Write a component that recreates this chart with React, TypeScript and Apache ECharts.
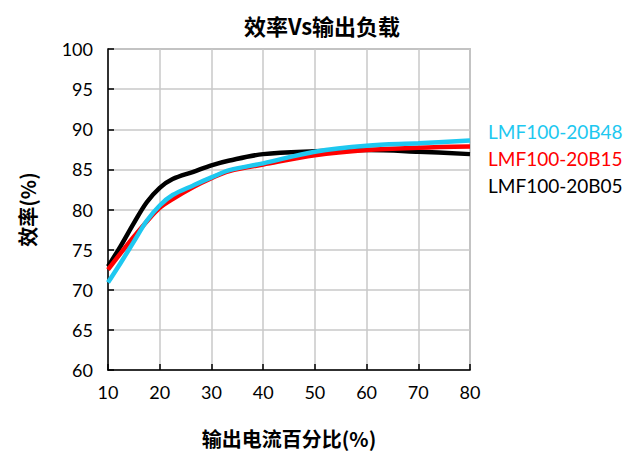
import React, { useEffect, useRef } from "react";
import * as echarts from "echarts";

const loadPct = [10, 12.5, 15, 17.5, 20, 22.5, 26.5, 30, 33.5, 40, 50, 60, 70, 80];
const effB05 = [72.9, 75.5, 78.3, 80.9, 82.7, 83.8, 84.7, 85.5, 86.1, 86.9, 87.25, 87.4, 87.2, 86.9];
const effB15 = [72.5, 74.6, 76.6, 78.5, 80.2, 81.3, 82.8, 83.9, 84.8, 85.6, 86.75, 87.4, 87.7, 87.85];
const effB48 = [70.9, 73.4, 76.0, 78.6, 80.5, 81.8, 83.0, 84.0, 84.9, 85.75, 87.2, 87.95, 88.25, 88.6];

const seriesNames = ["LMF100-20B48", "LMF100-20B15", "LMF100-20B05"];
const seriesColors = ["#1ec8f0", "#ff0000", "#000000"];

const title = "效率Vs输出负载";
const xName = "输出电流百分比(%)";
const yName = "效率(%)";

const font = "Lato, 'Noto Sans CJK SC', sans-serif";
const cjk = "'Noto Sans CJK SC', sans-serif";

export default function App() {
  const ref = useRef<HTMLDivElement>(null);
  useEffect(() => {
    const chart = echarts.init(ref.current!, undefined, { renderer: "svg" });
    const pair = (ys: number[]) => loadPct.map((x, i) => [x, ys[i]]);
    const mk = (name: string, color: string, ys: number[]) => ({
      name,
      type: "line",
      smooth: 0.35,
      showSymbol: false,
      data: pair(ys),
      lineStyle: { color, width: 4.5 },
      itemStyle: { color },
    });
    chart.setOption({
      animation: false,
      backgroundColor: "#ffffff",
      textStyle: { fontFamily: font },
      title: {
        text: title,
        left: 317,
        textAlign: "center",
        top: 9,
        textStyle: { fontSize: 22, fontWeight: "bold", color: "#000", fontFamily: cjk },
      },
      legend: {
        orient: "vertical",
        left: 483,
        top: 115,
        icon: "none",
        itemWidth: 0,
        itemHeight: 14,
        itemGap: 4,
        selectedMode: false,
        data: seriesNames.map((n, i) => ({ name: n, textStyle: { color: seriesColors[i] } })),
        textStyle: { fontSize: 19, fontFamily: font, padding: [0, 0, 0, -5], lineHeight: 23 },
      },
      grid: {
        left: 108,
        right: 164,
        top: 49,
        bottom: 84,
        show: true,
        borderColor: "#9a9a9a",
        borderWidth: 1.5,
      },
      xAxis: {
        type: "value",
        min: 10,
        max: 80,
        interval: 10,
        name: xName,
        nameLocation: "middle",
        nameGap: 58,
        nameTextStyle: { fontSize: 20, fontWeight: "bold", color: "#000", fontFamily: cjk },
        axisLine: { lineStyle: { color: "#000", width: 1.5 } },
        axisTick: { inside: true, length: 6, lineStyle: { color: "#000", width: 1.5 } },
        axisLabel: { fontSize: 18, color: "#000", margin: 13, fontFamily: font },
        splitLine: { show: true, lineStyle: { color: "#c8c8c8", width: 1.5 } },
      },
      yAxis: {
        type: "value",
        min: 60,
        max: 100,
        interval: 5,
        name: yName,
        nameLocation: "middle",
        nameGap: 71,
        nameRotate: 90,
        nameTextStyle: { fontSize: 20, fontWeight: "bold", color: "#000", fontFamily: cjk },
        axisLine: { show: true, lineStyle: { color: "#000", width: 1.5 } },
        axisTick: { show: true, inside: true, length: 6, lineStyle: { color: "#000", width: 1.5 } },
        axisLabel: { fontSize: 18, color: "#000", margin: 15, fontFamily: font },
        splitLine: { show: true, lineStyle: { color: "#c8c8c8", width: 1.5 } },
      },
      series: [
        mk(seriesNames[2], seriesColors[2], effB05),
        mk(seriesNames[1], seriesColors[1], effB15),
        mk(seriesNames[0], seriesColors[0], effB48),
      ],
    });
    return () => chart.dispose();
  }, []);
  return (
    <div
      ref={ref}
      style={{ position: "absolute", left: 0, top: 0, width: 634, height: 454 }}
    />
  );
}
